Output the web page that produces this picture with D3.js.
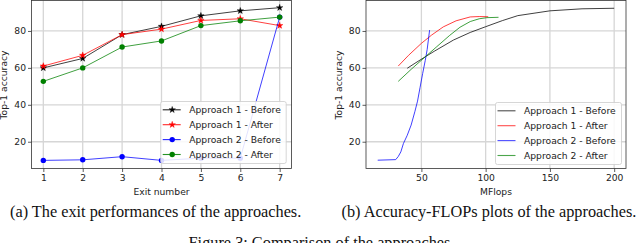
<!DOCTYPE html>
<html>
<head>
<meta charset="utf-8">
<script src="https://cdn.jsdelivr.net/npm/d3@7"></script>
<style>
  body { margin: 0; background: #fff; }
  text { font-family: "DejaVu Sans", sans-serif; }
  .cap { font-family: "Liberation Serif", serif; }
</style>
</head>
<body>
<div id="demo"></div>
<script>
// left plot: accuracy per exit
let exits = [1, 2, 3, 4, 5, 6, 7];
let a1Before = [60.0, 65.1, 78.0, 82.5, 88.2, 90.9, 92.6];
let a1After = [61.0, 66.8, 78.0, 81.0, 85.7, 86.6, 82.9];
let a2Before = [9.9, 10.2, 11.9, 9.9, 11.1, 11.1, 87.5];
let a2After = [52.7, 60.0, 71.3, 74.6, 82.9, 85.5, 87.5];

// right plot: accuracy vs MFlops
let flopsA1Before = [39, 45, 53, 60, 75, 88, 100, 113, 125, 150, 175, 200];
let accA1Before = [59.8, 62.5, 66.0, 69.0, 75.1, 79.2, 82.3, 85.6, 88.3, 90.9, 92.0, 92.3];
let flopsA1After = [32, 40, 50, 58, 67, 77, 88, 95, 102];
let accA1After = [61.0, 66.8, 73.3, 77.8, 82.2, 85.5, 87.6, 87.8, 87.7];
let flopsA2Before = [16, 30, 32, 34, 36, 39, 42, 45, 47, 49, 51, 53, 54.5, 56.4];
let accA2Before = [10.0, 10.3, 12.0, 14.5, 19.0, 23.5, 29.0, 36.5, 42.0, 49.5, 57.0, 64.0, 70.0, 80.5];
let flopsA2After = [32, 42, 53, 62, 72, 80, 88, 95, 101, 110];
let accA2After = [52.7, 59.2, 66.0, 71.5, 77.6, 82.0, 85.1, 86.6, 87.2, 87.4];

let names = ["Approach 1 - Before", "Approach 1 - After", "Approach 2 - Before", "Approach 2 - After"];
let colors = ["#000000", "#ff0000", "#0000ff", "#008000"];
let markers = ["star", "star", "circle", "circle"];
let yTicks = [20, 40, 60, 80];

let w = 640, h = 243;
let svg = d3.select("#demo").append("svg").attr("width", w).attr("height", h);

let yScale = d3.scaleLinear().domain([5.5, 96.5]).range([168.5, 0.5]);

const starPath = d3.symbol().type(d3.symbolStar).size(13);

const drawMarker = (g, type, color, x, y) => {
    if (type === "star") {
        g.append("path").attr("d", starPath())
            .attr("transform", "translate(" + x + "," + y + ")")
            .attr("fill", color).attr("stroke", color).attr("stroke-width", 0.4);
    } else {
        g.append("circle").attr("cx", x).attr("cy", y).attr("r", 2.7).attr("fill", color);
    }
};

const drawFrame = (x, xTicks, xLabel, ylabX) => {
    let g = svg.append("g");
    let [l, r] = x.range();
    let [b, t] = yScale.range();
    // grid
    g.selectAll(".gx").data(xTicks).enter().append("line")
        .attr("x1", (d) => x(d)).attr("x2", (d) => x(d)).attr("y1", t).attr("y2", b)
        .attr("stroke", "#d6d6d6").attr("stroke-width", 1.3);
    g.selectAll(".gy").data(yTicks).enter().append("line")
        .attr("x1", l).attr("x2", r).attr("y1", (d) => yScale(d)).attr("y2", (d) => yScale(d))
        .attr("stroke", "#d6d6d6").attr("stroke-width", 1.3);
    // ticks
    let ax = d3.axisBottom(x).tickValues(xTicks).tickSize(3.5).tickPadding(2).tickFormat(d3.format("d"));
    let xg = g.append("g").attr("transform", "translate(0," + b + ")").call(ax);
    let ay = d3.axisLeft(yScale).tickValues(yTicks).tickSize(3.5).tickPadding(2);
    let yg = g.append("g").attr("transform", "translate(" + l + ",0)").call(ay);
    [xg, yg].forEach((a) => {
        a.select(".domain").remove();
        a.selectAll("line").attr("stroke", "#333").attr("stroke-width", 0.8);
        a.selectAll("text").attr("font-size", "9.2px").attr("fill", "#222")
            .attr("font-family", "DejaVu Sans, sans-serif");
    });
    g.append("text").attr("x", (l + r) / 2).attr("y", 194.5).attr("text-anchor", "middle")
        .attr("font-size", "9.2px").attr("fill", "#222").text(xLabel);
    g.append("text").attr("transform", "translate(" + ylabX + ",85) rotate(-90)")
        .attr("text-anchor", "middle").attr("font-size", "9.2px").attr("fill", "#222")
        .text("Top-1 accuracy");
    return g;
};

const drawBorder = (x) => {
    let [l, r] = x.range();
    let [b, t] = yScale.range();
    svg.append("rect").attr("x", l).attr("y", t).attr("width", r - l).attr("height", b - t)
        .attr("fill", "none").attr("stroke", "#333").attr("stroke-width", 0.8);
};

const drawLegend = (x0, y0, wd, withMarkers) => {
    let lg = svg.append("g").attr("transform", "translate(" + x0 + "," + y0 + ")");
    lg.append("rect").attr("width", wd).attr("height", 62).attr("rx", 2)
        .attr("fill", "#fff").attr("fill-opacity", 0.85).attr("stroke", "#cccccc").attr("stroke-width", 0.8);
    names.forEach((n, i) => {
        let yy = 8.3 + i * 14.9;
        lg.append("line").attr("x1", 2).attr("x2", 20).attr("y1", yy).attr("y2", yy)
            .attr("stroke", colors[i]).attr("stroke-width", 1.1)
            .attr("stroke-opacity", withMarkers ? 0.85 : 0.7);
        if (withMarkers) drawMarker(lg, markers[i], colors[i], 11.5, yy);
        lg.append("text").attr("x", 28.5).attr("y", yy + 3.3).attr("font-size", "9.2px")
            .attr("fill", "#222").text(n);
    });
};

// ---- left plot
let xLeft = d3.scaleLinear().domain([0.7, 7.3]).range([31.5, 291.5]);
drawFrame(xLeft, exits, "Exit number", 7);
let leftSeries = [a1Before, a1After, a2Before, a2After];
let lineL = d3.line().x((d) => xLeft(d[0])).y((d) => yScale(d[1]));
let gl = svg.append("g");
leftSeries.forEach((s, i) => {
    let pts = exits.map((e, j) => [e, s[j]]);
    gl.append("path").attr("d", lineL(pts)).attr("fill", "none")
        .attr("stroke", colors[i]).attr("stroke-width", 1.0).attr("stroke-opacity", 0.75);
    pts.forEach((p) => drawMarker(gl, markers[i], colors[i], xLeft(p[0]), yScale(p[1])));
});
drawBorder(xLeft);
drawLegend(160.7, 101.5, 125.5, true);

// ---- right plot
let xRight = d3.scaleLinear().domain([6.9, 209.2]).range([366, 626]);
drawFrame(xRight, [50, 100, 150, 200], "MFlops", 342);
let rightSeries = [
    [flopsA1Before, accA1Before],
    [flopsA1After, accA1After],
    [flopsA2Before, accA2Before],
    [flopsA2After, accA2After]
];
let lineR = d3.line().x((d) => xRight(d[0])).y((d) => yScale(d[1]));
let gr = svg.append("g");
rightSeries.forEach((s, i) => {
    let pts = s[0].map((f, j) => [f, s[1][j]]);
    gr.append("path").attr("d", lineR(pts)).attr("fill", "none")
        .attr("stroke", colors[i]).attr("stroke-width", 1.0).attr("stroke-opacity", 0.75);
});
drawBorder(xRight);
drawLegend(495.5, 102.5, 126, false);

// captions
svg.append("text").attr("class", "cap").attr("x", 10).attr("y", 216.5).attr("font-size", "16.3px")
    .attr("fill", "#111").text("(a) The exit performances of the approaches.");
svg.append("text").attr("class", "cap").attr("x", 341.5).attr("y", 216.5).attr("font-size", "16.3px")
    .attr("fill", "#111").text("(b) Accuracy-FLOPs plots of the approaches.");
svg.append("text").attr("class", "cap").attr("x", 321.5).attr("y", 248).attr("text-anchor", "middle")
    .attr("font-size", "16.3px").attr("fill", "#111").text("Figure 3: Comparison of the approaches.");
</script>
</body>
</html>
